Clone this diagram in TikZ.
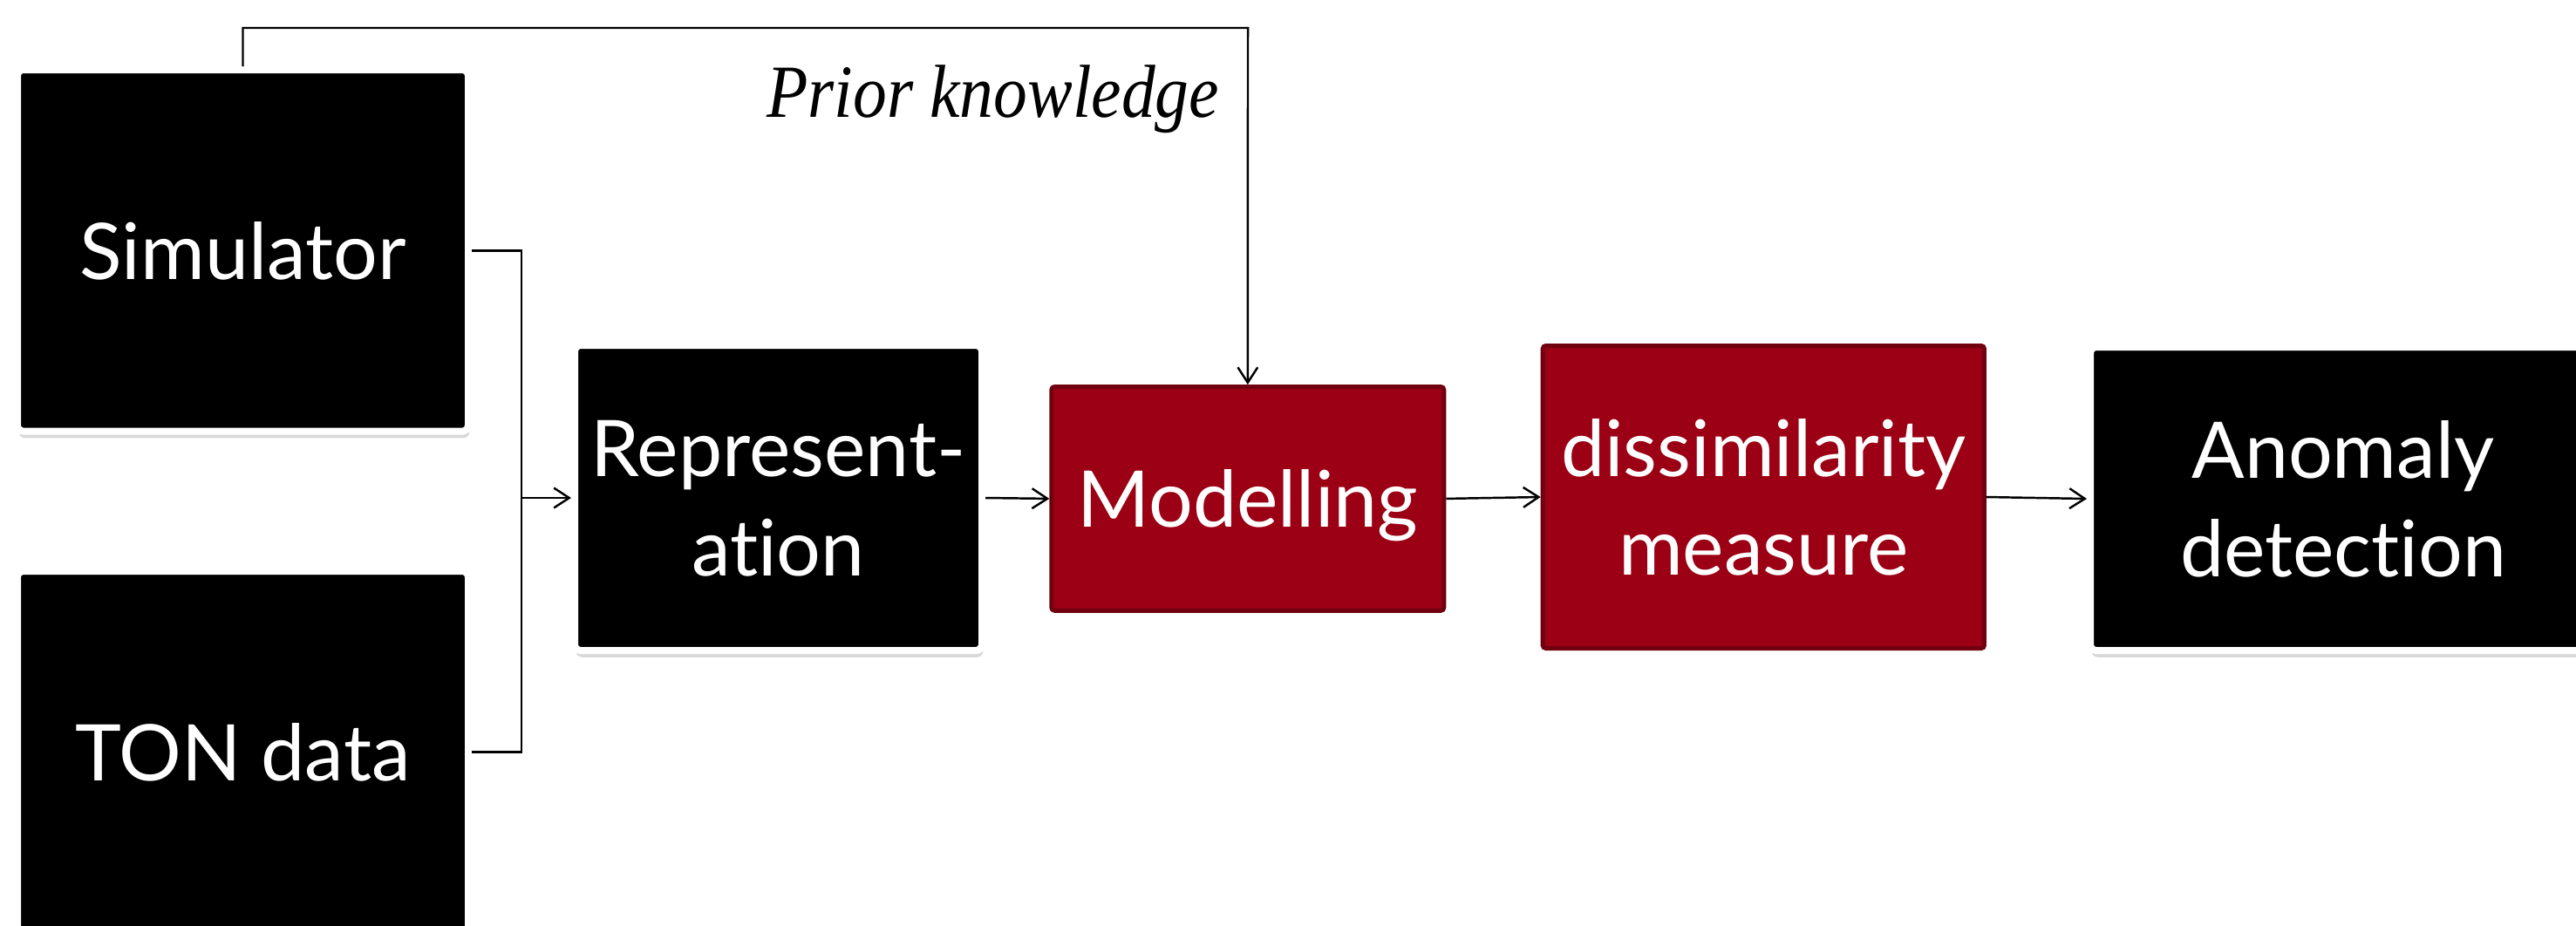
\documentclass[tikz,border=0pt]{standalone}
\usepackage{fontspec}
\setmainfont{Lato}[Ligatures={NoCommon,NoContextual}]
\newfontfamily\priorfont{Liberation Serif}
\usetikzlibrary{arrows.meta,shadows}

\definecolor{boxred}{RGB}{155,0,20}
\definecolor{boxredline}{RGB}{112,0,14}

\begin{document}
\begin{tikzpicture}[
	>={Straight Barb[length=5pt,width=6.5pt]},
	conn/.style={line width=0.7pt},
	blackbox/.style={fill=black, draw=white, line width=0.08cm, rounded corners=2pt, inner sep=0pt,
		text=white, align=center, text depth=0pt,
		drop shadow={shadow xshift=0.4pt, shadow yshift=-2.2pt, fill=black, opacity=0.15}},
	redbox/.style={fill=boxred, draw=boxredline, line width=0.05cm, rounded corners=1pt, inner sep=0pt,
		text=white, align=center, text depth=0pt},
	font=\fontsize{25.5}{32.4}\selectfont
]

%Rahmen
\useasboundingbox (0,0) rectangle (29.54,-10.61);

%Eingaben
\node[blackbox, minimum width=5.17cm, minimum height=4.146cm] (sim) at (2.785,-2.873) {Simulator};
\node[blackbox, minimum width=5.17cm, minimum height=4.146cm] (ton) at (2.785,-8.623) {TON data};

%Kette
\node[blackbox, minimum width=4.67cm, minimum height=3.50cm] (rep) at (8.925,-5.71) {Represent-\\ation};
\node[redbox, minimum width=4.50cm, minimum height=2.567cm] (model) at (14.308,-5.719) {Modelling};
\node[redbox, minimum width=5.063cm, minimum height=3.47cm] (diss) at (20.223,-5.70) {dissimilarity\\measure};
\node[blackbox, minimum width=5.80cm, minimum height=3.48cm] (anom) at (26.87,-5.72) {Anomaly\\detection};

%Zusammenfuehrung
\coordinate (merge) at (5.98,-5.71);
\draw[conn] (sim.east) -| (merge) |- (ton.east);
\draw[conn, ->] (merge) -- (rep.west);

%Pfeile
\draw[conn, ->] (rep.east) -- (model.west);
\draw[conn, ->] (model.east) -- (diss.west);
\draw[conn, ->] (diss.east) -- (anom.west);

%Vorwissen
\coordinate (topright) at (14.31,-0.32);
\draw[conn, ->] (sim.north) |- (topright) -- (model.north);
\node[anchor=base east, inner sep=0pt, xscale=0.9, transform shape, font=\priorfont\itshape\fontsize{24.5}{28}\selectfont] (prior) at (13.986,-1.34) {Prior knowledge};

\end{tikzpicture}
\end{document}
